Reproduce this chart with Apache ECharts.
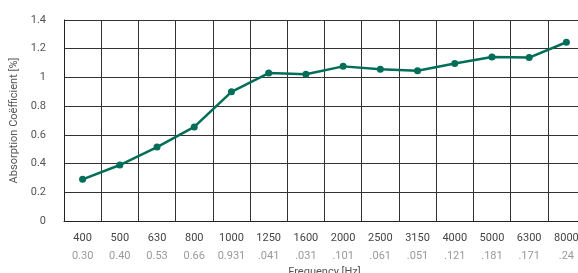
<!DOCTYPE html>
<html>
<head>
<meta charset="utf-8">
<script src="https://cdn.jsdelivr.net/npm/echarts@6/dist/echarts.min.js"></script>
<style>
  html, body { margin: 0; padding: 0; background: #fff; }
  #chart { width: 578px; height: 273px; }
</style>
</head>
<body>
<div id="chart"></div>
<script>
const frequencies = ['400', '500', '630', '800', '1000', '1250', '1600', '2000', '2500', '3150', '4000', '5000', '6300', '8000']
const subLabels = ['0.30', '0.40', '0.53', '0.66', '0.931', '.041', '.031', '.101', '.061', '.051', '.121', '.181', '.171', '.24']
const absorption = [0.29, 0.39, 0.515, 0.655, 0.9, 1.03, 1.022, 1.077, 1.057, 1.046, 1.097, 1.143, 1.138, 1.245]

const chart = echarts.init(document.getElementById('chart'))

chart.setOption({
  animation: false,
  textStyle: { fontFamily: 'Roboto' },
  grid: { left: 64, right: -7, top: 20, bottom: 52, outerBoundsMode: 'none', containLabel: false },
  xAxis: {
    type: 'category',
    data: frequencies,
    boundaryGap: true,
    name: 'Frequency [Hz]',
    nameLocation: 'middle',
    nameGap: 44,
    nameTextStyle: { color: '#555', fontSize: 11 },
    axisLine: { lineStyle: { color: '#222', width: 1 } },
    axisTick: { show: false },
    axisLabel: {
      interval: 0,
      margin: 8,
      formatter: (v, i) => `{a|${v}}\n{b|${subLabels[i]}}`,
      rich: {
        a: { color: '#444', fontSize: 11, lineHeight: 18 },
        b: { color: '#999', fontSize: 11, lineHeight: 18 }
      }
    },
    splitLine: { show: true, interval: 0, lineStyle: { color: '#333', width: 1 } }
  },
  yAxis: {
    type: 'value',
    min: 0,
    max: 1.4,
    interval: 0.2,
    name: 'Absorption Coëfficient [%]',
    nameLocation: 'middle',
    nameGap: 44,
    nameTextStyle: { color: '#555', fontSize: 11 },
    axisLine: { show: true, lineStyle: { color: '#222', width: 1 } },
    axisTick: { show: false },
    axisLabel: {
      color: '#555',
      fontSize: 11,
      margin: 18,
      formatter: v => String(Math.round(v * 10) / 10)
    },
    splitLine: { show: true, lineStyle: { color: '#333', width: 1 } }
  },
  series: [{
    type: 'line',
    data: absorption,
    symbol: 'circle',
    symbolSize: 7,
    lineStyle: { color: '#006e58', width: 2.5 },
    itemStyle: { color: '#006e58' }
  }]
})
</script>
</body>
</html>
